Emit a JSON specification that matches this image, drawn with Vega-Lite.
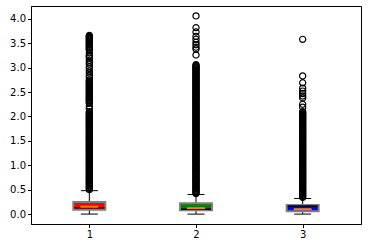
{
  "$schema": "https://vega.github.io/schema/vega-lite/v6.json",
  "autosize": "none",
  "padding": {"left": 31, "top": 6, "right": 11, "bottom": 24},
  "width": 330,
  "height": 218,
  "config": {
    "font": "DejaVu Sans",
    "view": {"stroke": "#000000", "strokeWidth": 1},
    "axis": {"grid": false, "domainColor": "#000000", "tickColor": "#000000", "labelColor": "#000000", "labelFontSize": 10, "tickSize": 3.5, "labelPadding": 2, "title": null, "labelOverlap": false, "labelFont": "DejaVu Sans"}
  },
  "datasets": {
    "boxes": [
      {"g": 1, "q1": 0.09, "q3": 0.25, "med": 0.15, "blk": 0.13, "lo": 0.0, "hi": 0.48, "c": "red"},
      {"g": 2, "q1": 0.08, "q3": 0.22, "med": 0.12, "blk": 0.1, "lo": 0.0, "hi": 0.4, "c": "green"},
      {"g": 3, "q1": 0.06, "q3": 0.185, "med": 0.1, "blk": 0.165, "lo": 0.0, "hi": 0.32, "c": "blue"}
    ],
    "out": [
      {"g":1,"v":0.50},{"g":1,"v":0.54},{"g":1,"v":0.58},{"g":1,"v":0.62},{"g":1,"v":0.66},{"g":1,"v":0.70},{"g":1,"v":0.74},{"g":1,"v":0.78},{"g":1,"v":0.82},{"g":1,"v":0.86},{"g":1,"v":0.90},{"g":1,"v":0.94},{"g":1,"v":0.98},{"g":1,"v":1.02},{"g":1,"v":1.06},{"g":1,"v":1.10},{"g":1,"v":1.14},{"g":1,"v":1.18},{"g":1,"v":1.22},{"g":1,"v":1.26},{"g":1,"v":1.30},{"g":1,"v":1.34},{"g":1,"v":1.38},{"g":1,"v":1.42},{"g":1,"v":1.46},{"g":1,"v":1.50},{"g":1,"v":1.54},{"g":1,"v":1.58},{"g":1,"v":1.62},{"g":1,"v":1.66},{"g":1,"v":1.70},{"g":1,"v":1.74},{"g":1,"v":1.78},{"g":1,"v":1.82},{"g":1,"v":1.86},{"g":1,"v":1.90},{"g":1,"v":1.94},{"g":1,"v":1.98},{"g":1,"v":2.02},{"g":1,"v":2.06},{"g":1,"v":2.10},
      {"g":1,"v":0.52},{"g":1,"v":0.56},{"g":1,"v":0.60},{"g":1,"v":0.64},{"g":1,"v":0.68},{"g":1,"v":0.72},{"g":1,"v":0.76},{"g":1,"v":0.80},{"g":1,"v":0.84},{"g":1,"v":0.88},{"g":1,"v":0.92},{"g":1,"v":0.96},{"g":1,"v":1.00},{"g":1,"v":1.04},{"g":1,"v":1.08},{"g":1,"v":1.12},{"g":1,"v":1.16},{"g":1,"v":1.20},{"g":1,"v":1.24},{"g":1,"v":1.28},{"g":1,"v":1.32},{"g":1,"v":1.36},{"g":1,"v":1.40},{"g":1,"v":1.44},{"g":1,"v":1.48},{"g":1,"v":1.52},{"g":1,"v":1.56},{"g":1,"v":1.60},{"g":1,"v":1.64},{"g":1,"v":1.68},{"g":1,"v":1.72},{"g":1,"v":1.76},{"g":1,"v":1.80},{"g":1,"v":1.84},{"g":1,"v":1.88},{"g":1,"v":1.92},{"g":1,"v":1.96},{"g":1,"v":2.00},{"g":1,"v":2.04},{"g":1,"v":2.08},
      {"g":1,"v":2.16},{"g":1,"v":2.21},
      {"g":1,"v":2.27},{"g":1,"v":2.29},{"g":1,"v":2.31},{"g":1,"v":2.33},{"g":1,"v":2.35},{"g":1,"v":2.37},{"g":1,"v":2.39},{"g":1,"v":2.41},{"g":1,"v":2.43},{"g":1,"v":2.45},{"g":1,"v":2.47},{"g":1,"v":2.49},{"g":1,"v":2.51},{"g":1,"v":2.53},{"g":1,"v":2.55},{"g":1,"v":2.57},{"g":1,"v":2.59},{"g":1,"v":2.61},{"g":1,"v":2.63},{"g":1,"v":2.65},{"g":1,"v":2.67},{"g":1,"v":2.69},{"g":1,"v":2.71},{"g":1,"v":2.73},{"g":1,"v":2.75},
      {"g":1,"v":2.80},{"g":1,"v":2.84},{"g":1,"v":2.89},{"g":1,"v":2.93},{"g":1,"v":2.98},{"g":1,"v":3.02},{"g":1,"v":3.07},{"g":1,"v":3.11},{"g":1,"v":3.15},{"g":1,"v":3.20},{"g":1,"v":3.23},{"g":1,"v":3.25},{"g":1,"v":3.30},
      {"g":1,"v":3.36},{"g":1,"v":3.38},{"g":1,"v":3.40},{"g":1,"v":3.42},{"g":1,"v":3.44},{"g":1,"v":3.46},{"g":1,"v":3.48},{"g":1,"v":3.50},{"g":1,"v":3.52},{"g":1,"v":3.54},{"g":1,"v":3.56},{"g":1,"v":3.58},{"g":1,"v":3.60},{"g":1,"v":3.62},{"g":1,"v":3.64},{"g":1,"v":3.66},
      {"g":2,"v":0.42},{"g":2,"v":0.46},{"g":2,"v":0.50},{"g":2,"v":0.54},{"g":2,"v":0.58},{"g":2,"v":0.62},{"g":2,"v":0.66},{"g":2,"v":0.70},{"g":2,"v":0.74},{"g":2,"v":0.78},{"g":2,"v":0.82},{"g":2,"v":0.86},{"g":2,"v":0.90},{"g":2,"v":0.94},{"g":2,"v":0.98},{"g":2,"v":1.02},{"g":2,"v":1.06},{"g":2,"v":1.10},{"g":2,"v":1.14},{"g":2,"v":1.18},{"g":2,"v":1.22},{"g":2,"v":1.26},{"g":2,"v":1.30},{"g":2,"v":1.34},{"g":2,"v":1.38},{"g":2,"v":1.42},{"g":2,"v":1.46},{"g":2,"v":1.50},{"g":2,"v":1.54},{"g":2,"v":1.58},{"g":2,"v":1.62},{"g":2,"v":1.66},{"g":2,"v":1.70},{"g":2,"v":1.74},{"g":2,"v":1.78},{"g":2,"v":1.82},{"g":2,"v":1.86},{"g":2,"v":1.90},{"g":2,"v":1.94},{"g":2,"v":1.98},{"g":2,"v":2.02},{"g":2,"v":2.06},{"g":2,"v":2.10},{"g":2,"v":2.14},{"g":2,"v":2.18},{"g":2,"v":2.22},{"g":2,"v":2.26},{"g":2,"v":2.30},{"g":2,"v":2.34},{"g":2,"v":2.38},{"g":2,"v":2.42},{"g":2,"v":2.46},{"g":2,"v":2.50},{"g":2,"v":2.54},{"g":2,"v":2.58},{"g":2,"v":2.62},{"g":2,"v":2.66},{"g":2,"v":2.70},{"g":2,"v":2.74},{"g":2,"v":2.78},{"g":2,"v":2.82},{"g":2,"v":2.86},{"g":2,"v":2.90},{"g":2,"v":2.94},{"g":2,"v":2.98},{"g":2,"v":3.02},{"g":2,"v":3.06},
      {"g":2,"v":0.44},{"g":2,"v":0.48},{"g":2,"v":0.52},{"g":2,"v":0.56},{"g":2,"v":0.60},{"g":2,"v":0.64},{"g":2,"v":0.68},{"g":2,"v":0.72},{"g":2,"v":0.76},{"g":2,"v":0.80},{"g":2,"v":0.84},{"g":2,"v":0.88},{"g":2,"v":0.92},{"g":2,"v":0.96},{"g":2,"v":1.00},{"g":2,"v":1.04},{"g":2,"v":1.08},{"g":2,"v":1.12},{"g":2,"v":1.16},{"g":2,"v":1.20},{"g":2,"v":1.24},{"g":2,"v":1.28},{"g":2,"v":1.32},{"g":2,"v":1.36},{"g":2,"v":1.40},{"g":2,"v":1.44},{"g":2,"v":1.48},{"g":2,"v":1.52},{"g":2,"v":1.56},{"g":2,"v":1.60},{"g":2,"v":1.64},{"g":2,"v":1.68},{"g":2,"v":1.72},{"g":2,"v":1.76},{"g":2,"v":1.80},{"g":2,"v":1.84},{"g":2,"v":1.88},{"g":2,"v":1.92},{"g":2,"v":1.96},{"g":2,"v":2.00},{"g":2,"v":2.04},{"g":2,"v":2.08},{"g":2,"v":2.12},{"g":2,"v":2.16},{"g":2,"v":2.20},{"g":2,"v":2.24},{"g":2,"v":2.28},{"g":2,"v":2.32},{"g":2,"v":2.36},{"g":2,"v":2.40},{"g":2,"v":2.44},{"g":2,"v":2.48},{"g":2,"v":2.52},{"g":2,"v":2.56},{"g":2,"v":2.60},{"g":2,"v":2.64},{"g":2,"v":2.68},{"g":2,"v":2.72},{"g":2,"v":2.76},{"g":2,"v":2.80},{"g":2,"v":2.84},{"g":2,"v":2.88},{"g":2,"v":2.92},{"g":2,"v":2.96},{"g":2,"v":3.00},{"g":2,"v":3.04},
      {"g":2,"v":3.26},{"g":2,"v":3.38},{"g":2,"v":3.42},{"g":2,"v":3.47},{"g":2,"v":3.52},{"g":2,"v":3.58},{"g":2,"v":3.64},{"g":2,"v":3.73},{"g":2,"v":3.82},{"g":2,"v":4.06},
      {"g":3,"v":0.34},{"g":3,"v":0.38},{"g":3,"v":0.42},{"g":3,"v":0.46},{"g":3,"v":0.50},{"g":3,"v":0.54},{"g":3,"v":0.58},{"g":3,"v":0.62},{"g":3,"v":0.66},{"g":3,"v":0.70},{"g":3,"v":0.74},{"g":3,"v":0.78},{"g":3,"v":0.82},{"g":3,"v":0.86},{"g":3,"v":0.90},{"g":3,"v":0.94},{"g":3,"v":0.98},{"g":3,"v":1.02},{"g":3,"v":1.06},{"g":3,"v":1.10},{"g":3,"v":1.14},{"g":3,"v":1.18},{"g":3,"v":1.22},{"g":3,"v":1.26},{"g":3,"v":1.30},{"g":3,"v":1.34},{"g":3,"v":1.38},{"g":3,"v":1.42},{"g":3,"v":1.46},{"g":3,"v":1.50},{"g":3,"v":1.54},{"g":3,"v":1.58},{"g":3,"v":1.62},{"g":3,"v":1.66},{"g":3,"v":1.70},{"g":3,"v":1.74},{"g":3,"v":1.78},{"g":3,"v":1.82},{"g":3,"v":1.86},{"g":3,"v":1.90},{"g":3,"v":1.94},{"g":3,"v":1.98},{"g":3,"v":2.02},{"g":3,"v":2.06},{"g":3,"v":2.10},
      {"g":3,"v":0.36},{"g":3,"v":0.40},{"g":3,"v":0.44},{"g":3,"v":0.48},{"g":3,"v":0.52},{"g":3,"v":0.56},{"g":3,"v":0.60},{"g":3,"v":0.64},{"g":3,"v":0.68},{"g":3,"v":0.72},{"g":3,"v":0.76},{"g":3,"v":0.80},{"g":3,"v":0.84},{"g":3,"v":0.88},{"g":3,"v":0.92},{"g":3,"v":0.96},{"g":3,"v":1.00},{"g":3,"v":1.04},{"g":3,"v":1.08},{"g":3,"v":1.12},{"g":3,"v":1.16},{"g":3,"v":1.20},{"g":3,"v":1.24},{"g":3,"v":1.28},{"g":3,"v":1.32},{"g":3,"v":1.36},{"g":3,"v":1.40},{"g":3,"v":1.44},{"g":3,"v":1.48},{"g":3,"v":1.52},{"g":3,"v":1.56},{"g":3,"v":1.60},{"g":3,"v":1.64},{"g":3,"v":1.68},{"g":3,"v":1.72},{"g":3,"v":1.76},{"g":3,"v":1.80},{"g":3,"v":1.84},{"g":3,"v":1.88},{"g":3,"v":1.92},{"g":3,"v":1.96},{"g":3,"v":2.00},{"g":3,"v":2.04},{"g":3,"v":2.08},
      {"g":3,"v":2.19},{"g":3,"v":2.25},{"g":3,"v":2.38},{"g":3,"v":2.42},{"g":3,"v":2.47},{"g":3,"v":2.52},{"g":3,"v":2.58},{"g":3,"v":2.69},{"g":3,"v":2.83},{"g":3,"v":3.58}
    ]
  },
  "resolve": {"scale": {"x": "shared", "y": "shared"}},
  "layer": [
    {
      "data": {"name": "out"},
      "mark": {"type": "point", "shape": "circle", "filled": false, "size": 38, "stroke": "#000000", "strokeWidth": 1.2, "opacity": 0},
      "encoding": {
        "x": {"field": "g", "type": "quantitative", "scale": {"domain": [0.5, 3.5], "nice": false, "zero": false}, "axis": {"values": [1, 2, 3], "format": "d"}},
        "y": {"field": "v", "type": "quantitative", "scale": {"domain": [-0.203, 4.263], "nice": false, "zero": false}, "axis": {"values": [0, 0.5, 1, 1.5, 2, 2.5, 3, 3.5, 4], "format": ".1f"}}
      }
    },
    {
      "data": {"name": "boxes"},
      "mark": {"type": "rule", "color": "#000000", "strokeWidth": 1},
      "encoding": {
        "x": {"field": "g", "type": "quantitative", "axis": {"values": [1, 2, 3], "format": "d"}},
        "y": {"field": "q3", "type": "quantitative", "axis": {"values": [0, 0.5, 1, 1.5, 2, 2.5, 3, 3.5, 4], "format": ".1f"}},
        "y2": {"field": "hi"}
      }
    },
    {
      "data": {"name": "boxes"},
      "mark": {"type": "rule", "color": "#000000", "strokeWidth": 1},
      "encoding": {
        "x": {"field": "g", "type": "quantitative", "axis": {"values": [1, 2, 3], "format": "d"}},
        "y": {"field": "q1", "type": "quantitative", "axis": {"values": [0, 0.5, 1, 1.5, 2, 2.5, 3, 3.5, 4], "format": ".1f"}},
        "y2": {"field": "lo"}
      }
    },
    {
      "data": {"name": "boxes"},
      "mark": {"type": "tick", "orient": "horizontal", "size": 17, "thickness": 1, "color": "#000000", "opacity": 1},
      "encoding": {
        "x": {"field": "g", "type": "quantitative", "axis": {"values": [1, 2, 3], "format": "d"}},
        "y": {"field": "hi", "type": "quantitative", "axis": {"values": [0, 0.5, 1, 1.5, 2, 2.5, 3, 3.5, 4], "format": ".1f"}}
      }
    },
    {
      "data": {"name": "boxes"},
      "mark": {"type": "tick", "orient": "horizontal", "size": 17, "thickness": 1, "color": "#000000", "opacity": 1},
      "encoding": {
        "x": {"field": "g", "type": "quantitative", "axis": {"values": [1, 2, 3], "format": "d"}},
        "y": {"field": "lo", "type": "quantitative", "axis": {"values": [0, 0.5, 1, 1.5, 2, 2.5, 3, 3.5, 4], "format": ".1f"}}
      }
    },
    {
      "data": {"name": "boxes"},
      "mark": {"type": "bar", "size": 32, "stroke": "#7f7f7f", "strokeWidth": 2, "opacity": 1},
      "encoding": {
        "x": {"field": "g", "type": "quantitative", "axis": {"values": [1, 2, 3], "format": "d"}},
        "y": {"field": "q1", "type": "quantitative", "axis": {"values": [0, 0.5, 1, 1.5, 2, 2.5, 3, 3.5, 4], "format": ".1f"}},
        "y2": {"field": "q3"},
        "color": {"field": "c", "type": "nominal", "scale": {"domain": ["red", "green", "blue"], "range": ["#ff0000", "#008000", "#0000ff"]}, "legend": null}
      }
    },
    {
      "data": {"name": "boxes"},
      "mark": {"type": "tick", "orient": "horizontal", "size": 30, "thickness": 1.5, "color": "#000000", "opacity": 1},
      "encoding": {
        "x": {"field": "g", "type": "quantitative", "axis": {"values": [1, 2, 3], "format": "d"}},
        "y": {"field": "blk", "type": "quantitative", "axis": {"values": [0, 0.5, 1, 1.5, 2, 2.5, 3, 3.5, 4], "format": ".1f"}}
      }
    },
    {
      "data": {"name": "boxes"},
      "mark": {"type": "tick", "orient": "horizontal", "size": 18, "thickness": 2, "color": "#ff7f0e", "opacity": 1},
      "encoding": {
        "x": {"field": "g", "type": "quantitative", "axis": {"values": [1, 2, 3], "format": "d"}},
        "y": {"field": "med", "type": "quantitative", "axis": {"values": [0, 0.5, 1, 1.5, 2, 2.5, 3, 3.5, 4], "format": ".1f"}}
      }
    },
    {
      "data": {"name": "out"},
      "mark": {"type": "point", "shape": "circle", "filled": false, "size": 38, "stroke": "#000000", "strokeWidth": 1.2, "opacity": 1},
      "encoding": {
        "x": {"field": "g", "type": "quantitative", "axis": {"values": [1, 2, 3], "format": "d"}},
        "y": {"field": "v", "type": "quantitative", "axis": {"values": [0, 0.5, 1, 1.5, 2, 2.5, 3, 3.5, 4], "format": ".1f"}}
      }
    }
  ]
}
